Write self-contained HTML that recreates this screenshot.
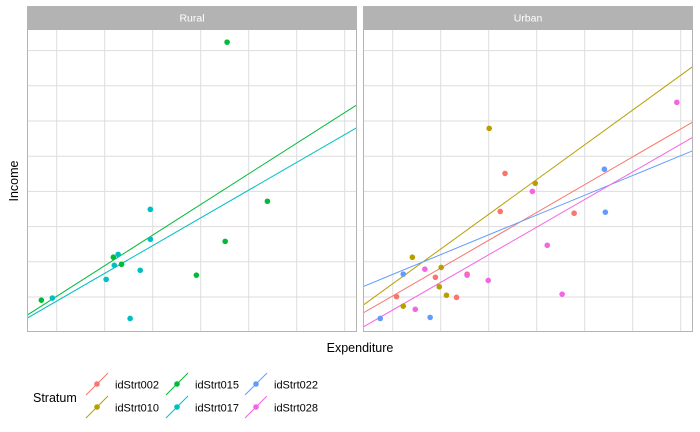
<!DOCTYPE html>
<html><head><meta charset="utf-8"><style>
body{margin:0;background:#fff;}
svg{display:block;font-family:"Liberation Sans",sans-serif;}
</style></head><body>
<svg id="chart" width="700" height="432" xmlns="http://www.w3.org/2000/svg"></svg>
<script>
const panels = ["Rural", "Urban"];
const strata = ["idStrt002","idStrt010","idStrt015","idStrt017","idStrt022","idStrt028"];
const colors = ["#F8766D","#B79F00","#00BA38","#00BFC4","#619CFF","#F564E3"];
// Rural points
const ruralX015 = [0.68,2.18,2.35,3.91,4.51,4.55,5.39];
const ruralY015 = [0.91,2.13,1.93,1.62,2.58,8.24,3.72];
const ruralX017 = [0.91,2.03,2.20,2.28,2.53,2.74,2.95,2.95];
const ruralY017 = [0.97,1.50,1.90,2.21,0.39,1.76,3.49,2.64];
// Urban points
const urbanX002 = [1.08,1.89,2.33,2.55,3.24,3.34,4.78];
const urbanY002 = [1.01,1.56,0.99,1.65,3.43,4.51,3.38];
const urbanX010 = [1.22,1.41,1.97,2.01,2.12,3.01,3.97];
const urbanY010 = [0.74,2.13,1.29,1.84,1.05,5.79,4.23];
const urbanX022 = [0.74,1.22,1.78,5.41,5.43];
const urbanY022 = [0.39,1.65,0.42,4.63,3.41];
const urbanX028 = [1.47,1.67,2.55,2.99,3.91,4.22,4.53,6.92];
const urbanY028 = [0.65,1.79,1.62,1.47,4.00,2.47,1.08,6.53];
// regression lines: intercept, slope
const ruralFitInt = [0.149, 0.096];
const ruralFitSlope = [0.870, 0.788];
const urbanFitInt = [0.242, 0.389, 1.08, -0.155];
const urbanFitSlope = [0.790, 0.987, 0.562, 0.785];

const NS="http://www.w3.org/2000/svg";
const svg=document.getElementById('chart');
function mk(tag,attrs,parent){const e=document.createElementNS(NS,tag);for(const k in attrs)e.setAttribute(k,attrs[k]);(parent||svg).appendChild(e);return e;}
const PT=29, PB=332, PW=330;
const panelLeft=[27,363];
const xMin=0.38, xMax=xMin+PW/48, yMin=0, yMax=(297-29)/35.2+1;
function sx(p,x){return panelLeft[p]+29.7+(x-1)*48;}
function sy(y){return 297-(y-1)*35.2;}

panels.forEach((name,p)=>{
  const L=panelLeft[p];
  const g=mk('g',{});
  
  
  const strip=mk('rect',{x:L,y:6,width:PW,height:23,fill:'#B3B3B3'},g);
  
  
  const st=mk('text',{x:L+PW/2,y:21.5,'text-anchor':'middle','font-size':'10.5',fill:'#fff'},g);
  st.textContent=name;
  
  
  mk('rect',{x:L,y:PT,width:PW,height:PB-PT,fill:'#fff'},g);
  for(let i=1;i<=7;i++){const ln=mk('line',{x1:sx(p,i),x2:sx(p,i),y1:PT,y2:PB,stroke:'#DDDDDD','stroke-width':1},g);
    }
  for(let j=1;j<=8;j++){const ln=mk('line',{x1:L,x2:L+PW,y1:sy(j),y2:sy(j),stroke:'#DDDDDD','stroke-width':1},g);
    }
  const clip=mk('clipPath',{id:'clip'+p},g);
  mk('rect',{x:L,y:PT,width:PW,height:PB-PT},clip);
  const ints=p===0?ruralFitInt:urbanFitInt, slopes=p===0?ruralFitSlope:urbanFitSlope;
  const lineCols=p===0?[2,3]:[0,1,4,5];
  ints.forEach((b,k)=>{
    const ln=mk('line',{x1:sx(p,xMin),y1:sy(b+slopes[k]*xMin),x2:sx(p,xMax),y2:sy(b+slopes[k]*xMax),stroke:colors[lineCols[k]],'stroke-width':1,'clip-path':'url(#clip'+p+')'},g);
    
    
  });
  const sets=p===0?[[ruralX015,ruralY015,2],[ruralX017,ruralY017,3]]:
    [[urbanX002,urbanY002,0],[urbanX010,urbanY010,1],[urbanX022,urbanY022,4],[urbanX028,urbanY028,5]];
  sets.forEach(([xs,ys,c])=>{xs.forEach((x,i)=>{
    const pt=mk('circle',{cx:sx(p,x),cy:sy(ys[i]),r:2.8,fill:colors[c]},g);
    
    
  });});
  const bd=mk('rect',{x:L+0.5,y:PT+0.5,width:PW-1,height:PB-PT-1,fill:'none',stroke:'#B3B3B3','stroke-width':1},g);
  
});
const xt=mk('text',{x:360,y:352,'text-anchor':'middle','font-size':'12.5',fill:'#000'});
xt.textContent='Expenditure';
const yt=mk('text',{x:0,y:0,'text-anchor':'middle','font-size':'12.5',fill:'#000',transform:'translate(18,181) rotate(-90)'});
yt.textContent='Income';
const lt=mk('text',{x:33,y:402,'font-size':'12.5',fill:'#000'});
lt.textContent='Stratum';
const keyX=[97,177,256], keyY=[384,407];
strata.forEach((s,i)=>{
  const col=Math.floor(i/2), row=i%2;
  const cx=keyX[col], cy=keyY[row];
  const g=mk('g',{});
  
  
  mk('line',{x1:cx-11,y1:cy+11,x2:cx+11,y2:cy-11,stroke:colors[i],'stroke-width':1},g);
  mk('circle',{cx:cx,cy:cy,r:2.8,fill:colors[i]},g);
  const t=mk('text',{x:cx+18,y:cy+4.5,'font-size':'11',fill:'#000'},g);
  t.textContent=s;
});
</script>
</body></html>
